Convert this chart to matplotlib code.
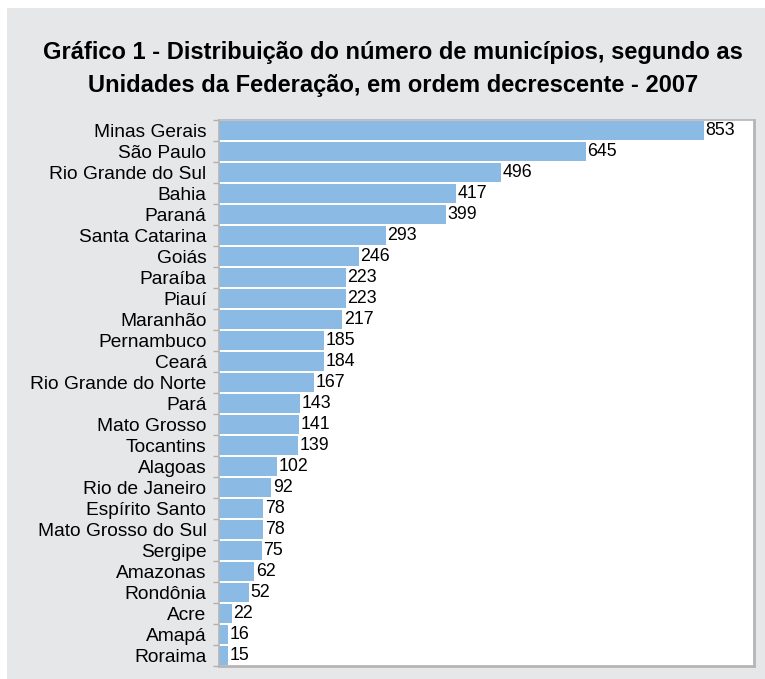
import matplotlib
matplotlib.use("Agg")
import matplotlib.pyplot as plt
from matplotlib.patches import Rectangle
import numpy as np

states = ["Minas Gerais", "São Paulo", "Rio Grande do Sul", "Bahia", "Paraná",
          "Santa Catarina", "Goiás", "Paraíba", "Piauí", "Maranhão", "Pernambuco",
          "Ceará", "Rio Grande do Norte", "Pará", "Mato Grosso", "Tocantins",
          "Alagoas", "Rio de Janeiro", "Espírito Santo", "Mato Grosso do Sul",
          "Sergipe", "Amazonas", "Rondônia", "Acre", "Amapá", "Roraima"]
municipios = [853, 645, 496, 417, 399, 293, 246, 223, 223, 217, 185, 184, 167,
              143, 141, 139, 102, 92, 78, 78, 75, 62, 52, 22, 16, 15]

title = ("Gráfico 1 - Distribuição do número de municípios, segundo as\n"
         "Unidades da Federação, em ordem decrescente - 2007")

plt.rcParams['font.family'] = ['Liberation Sans', 'DejaVu Sans']

W, H = 765, 679
fig = plt.figure(figsize=(W / 100, H / 100), dpi=100, facecolor="white")
fig.patches.append(Rectangle((7 / W, 0), 1 - 7 / W, 1 - 8 / H, transform=fig.transFigure,
                             facecolor="#e6e7e9", edgecolor="none", zorder=-5))

ax = fig.add_axes([219 / W, 1 - 666 / H, (754 - 219) / W, (666 - 120) / H])
ax.set_zorder(2)
ax.set_facecolor("white")

y = np.arange(len(states))
ax.barh(y, municipios, height=0.93, color="#8bbae5", edgecolor="none", zorder=2)
ax.set_ylim(len(states) - 0.5, -0.5)
ax.set_xlim(0, 941)

for yi, v in zip(y, municipios):
    ax.text(v + 3, yi, str(v), va="center", ha="left", fontsize=12.8, color="black", zorder=3)

ax.set_yticks(y)
ax.set_yticklabels(states, fontsize=13.8)
ax.tick_params(axis="y", which="major", length=0, pad=9)
ax.set_yticks(np.arange(-0.5, len(states)), minor=True)
ax.tick_params(axis="y", which="minor", length=4, color="#b0b0b0", width=1)
ax.set_xticks([])

for s in ax.spines.values():
    s.set_color("#b5b5b5")
    s.set_linewidth(1.2)
ax.spines["right"].set_linewidth(2)
ax.spines["bottom"].set_linewidth(2)

fig.text(393 / W, 1 - 69 / H, title, ha="center", va="center", fontsize=17,
         fontweight="bold", linespacing=1.6)

fig.savefig("out.png", dpi=100, facecolor=fig.get_facecolor())
